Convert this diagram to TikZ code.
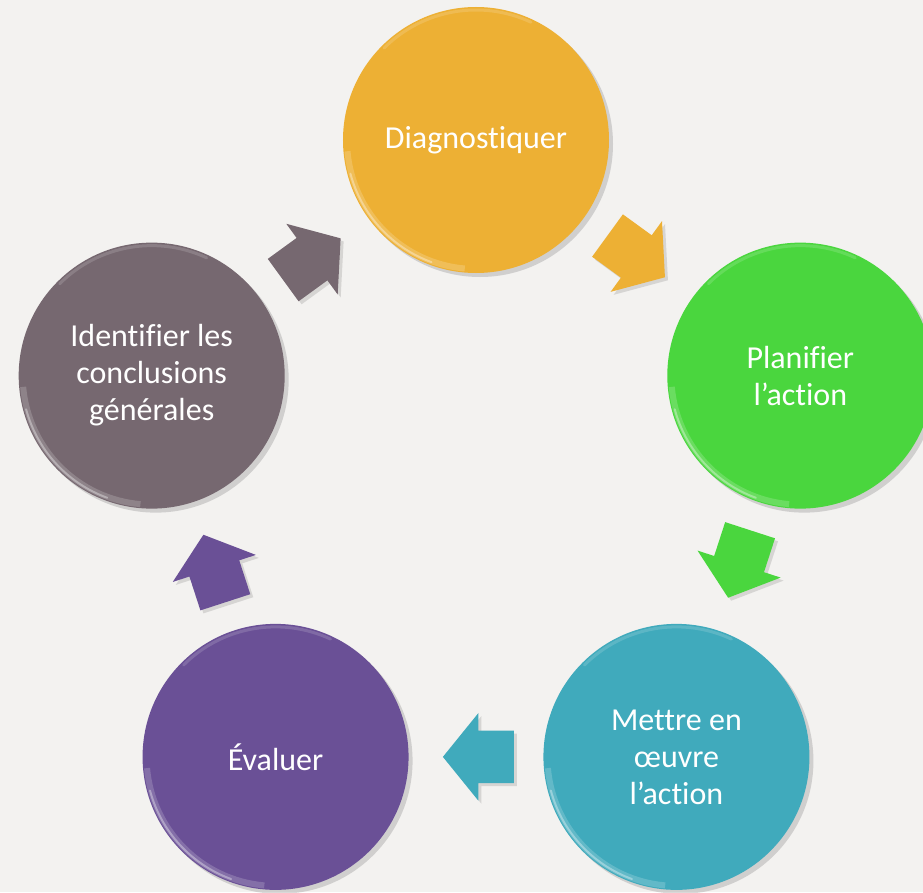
\documentclass[tikz,border=0pt]{standalone}
\usepackage{fontspec}
\setmainfont{Carlito}[Ligatures=NoCommon]
\usetikzlibrary{shapes.arrows,shadows,calc}

\definecolor{bgcol}{RGB}{243,242,240}
\definecolor{diagcol}{RGB}{237,176,52}
\definecolor{plancol}{RGB}{74,214,62}
\definecolor{mettcol}{RGB}{64,170,188}
\definecolor{evalcol}{RGB}{106,80,150}
\definecolor{identcol}{RGB}{118,104,112}

\tikzstyle{stage} = [circle, minimum size=266pt, inner sep=0pt,
    text=white, align=center, font=\fontsize{32}{37}\selectfont,
    drop shadow={shadow xshift=4pt, shadow yshift=-4pt, opacity=0.3}]
\tikzstyle{cyc} = [single arrow, minimum height=71pt, inner xsep=0pt, inner ysep=26pt,
    single arrow head extend=17.5pt, single arrow tip angle=102,
    drop shadow={shadow xshift=3pt, shadow yshift=-3pt, opacity=0.25}]

\begin{document}
\begin{tikzpicture}[x=1pt,y=1pt]
    \clip (-476,-411) rectangle (447,481);
    \fill[bgcol] (-476,-411) rectangle (447,481);

    \node[stage, fill=diagcol] (diag) at (90:341) {Diagnostiquer};
    \node[stage, fill=plancol] (plan) at (18:341) {Planifier\\l’action};
    \node[stage, fill=mettcol] (mett) at (-54:341) {Mettre en\\œuvre\\l’action};
    \node[stage, fill=evalcol] (eval) at (-126:341) {Évaluer};
    \node[stage, fill=identcol] (ident) at (162:341) {Identifier les\\conclusions\\générales};

    % glossy rim
    \foreach \n in {diag,plan,mett,eval,ident} {
        \draw[white, opacity=0.18, line width=6pt]
            ($(\n)+(185:129)$) arc[start angle=185, end angle=265, radius=129];
        \draw[white, opacity=0.35, line width=2pt, line cap=round]
            ($(\n)+(195:130)$) arc[start angle=195, end angle=250, radius=130];
        \draw[white, opacity=0.15, line width=3pt, line cap=round]
            ($(\n)+(65:130)$) arc[start angle=65, end angle=135, radius=130];
    }

    \node[cyc, fill=diagcol, rotate=-36] (a1) at ($(diag)!0.5!(plan)!13pt!(diag)$) {};
    \node[cyc, fill=plancol, rotate=-108] (a2) at ($(plan)!0.5!(mett)!13pt!(plan)$) {};
    \node[cyc, fill=mettcol, rotate=180] (a3) at ($(mett)!0.5!(eval)!13pt!(mett)$) {};
    \node[cyc, fill=evalcol, rotate=108] (a4) at ($(eval)!0.5!(ident)!13pt!(eval)$) {};
    \node[cyc, fill=identcol, rotate=36] (a5) at ($(ident)!0.5!(diag)!13pt!(ident)$) {};
\end{tikzpicture}
\end{document}
